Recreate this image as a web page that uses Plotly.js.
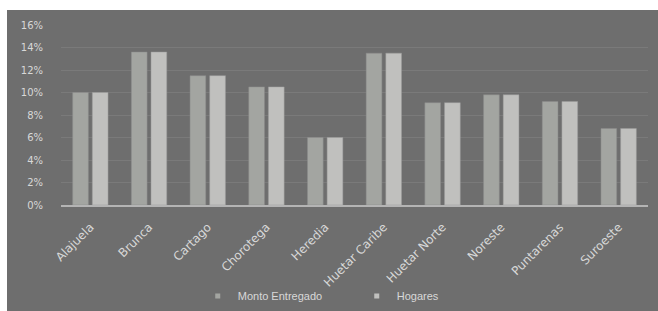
<!DOCTYPE html>
<html>
<head>
<meta charset="utf-8">
<script src="https://cdn.plot.ly/plotly-3.0.1.min.js"></script>
<style>
html,body{margin:0;padding:0;background:#ffffff;width:658px;height:311px;overflow:hidden;}
#chart{position:absolute;left:7px;top:10px;width:651px;height:301px;}
</style>
</head>
<body>
<div id="chart"></div>
<script>
const regions = ["Alajuela","Brunca","Cartago","Chorotega","Heredia","Huetar Caribe","Huetar Norte","Noreste","Puntarenas","Suroeste"];
const montoEntregado = [0.100,0.136,0.115,0.105,0.060,0.135,0.091,0.098,0.092,0.068];
const hogares = [0.100,0.136,0.115,0.105,0.060,0.135,0.091,0.098,0.092,0.068];
const yTicks = [0,0.02,0.04,0.06,0.08,0.10,0.12,0.14,0.16];
const yTickLabels = ["0%","2%","4%","6%","8%","10%","12%","14%","16%"];
const seriesNames = ["Monto Entregado","Hogares"];
const seriesColors = ["#a3a5a1","#c0c0be"];

const txt = "#d8d8d8";
const data = [
  {type:"bar", name:seriesNames[0], x:regions, y:montoEntregado, showlegend:false,
   marker:{color:seriesColors[0], line:{color:"#8a8a8a", width:0.5}}},
  {type:"bar", name:seriesNames[1], x:regions, y:hogares, showlegend:false,
   marker:{color:seriesColors[1], line:{color:"#9a9a9a", width:0.5}}},
  {type:"scatter", mode:"markers", name:seriesNames[0], x:[null], y:[null],
   marker:{symbol:"square", size:5, color:seriesColors[0]}},
  {type:"scatter", mode:"markers", name:seriesNames[1], x:[null], y:[null],
   marker:{symbol:"square", size:5, color:seriesColors[1]}}
];
const layout = {
  width:651, height:301,
  margin:{l:54, r:10, t:15, b:106},
  paper_bgcolor:"#6e6e6e", plot_bgcolor:"#6e6e6e",
  barmode:"group", bargap:0.33, bargroupgap:0.2,
  font:{family:"DejaVu Sans, sans-serif", size:10, color:txt}, showlegend:true,
  xaxis:{type:"category", tickangle:-45, tickfont:{family:"DejaVu Sans, sans-serif", size:12, color:txt},
         ticks:"outside", ticklen:9, tickcolor:"rgba(0,0,0,0)",
         showgrid:false, showline:true, linecolor:"#b4b4b4", linewidth:1.5, automargin:false},
  yaxis:{range:[0,0.16], tickvals:yTicks, ticktext:yTickLabels, tickfont:{family:"DejaVu Sans, sans-serif",size:10,color:txt},
         ticks:"outside", ticklen:15, tickcolor:"rgba(0,0,0,0)",
         showgrid:true, gridcolor:"#7a7a7a", gridwidth:1, zeroline:false, automargin:false},
  legend:{orientation:"h", x:0.293, xanchor:"left", xref:"container", y:0.05, yanchor:"middle", yref:"container",
          itemwidth:30, entrywidth:114, entrywidthmode:"pixels",
          font:{family:"Liberation Sans, Arial, sans-serif", size:11, color:txt}, bgcolor:"rgba(0,0,0,0)"}
};
Plotly.newPlot("chart", data, layout, {displayModeBar:false, staticPlot:true});
</script>
</body>
</html>
